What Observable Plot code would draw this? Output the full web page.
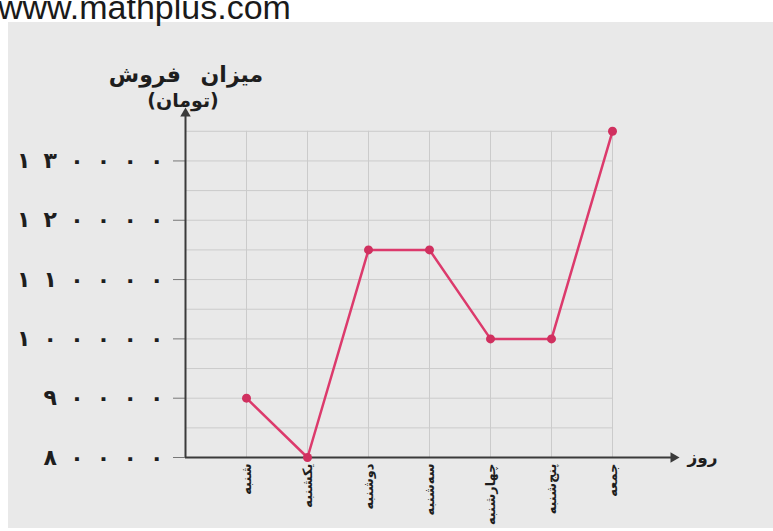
<!DOCTYPE html>
<html>
<head>
<meta charset="utf-8">
<script src="https://cdn.jsdelivr.net/npm/d3@7"></script>
<script src="https://cdn.jsdelivr.net/npm/@observablehq/plot@0.6"></script>
<style>
  html, body { margin: 0; padding: 0; background: #ffffff; }
  #wrap { position: relative; width: 773px; height: 531px; overflow: hidden; background: #ffffff; }
  #paper { position: absolute; left: 8px; top: 22px; width: 765px; height: 506px; background: #e9e9e9; }
  #wm { position: absolute; left: -2px; top: -12px; font-family: "Liberation Sans", Arial, sans-serif; font-size: 34px; color: #1a1a1a; white-space: nowrap; }
  #ttl1, #ttl2 { position: absolute; font-family: "DejaVu Sans", sans-serif; font-weight: bold; color: #1e1e1e; white-space: nowrap; transform: translateX(-50%); direction: rtl; }
  #ttl1 { left: 186px; top: 62px; font-size: 22px; word-spacing: 12px; }
  #ttl2 { left: 183px; top: 89px; font-size: 19px; }
  #chart { position: absolute; left: 0; top: 0; }
</style>
</head>
<body>
<div id="wrap">
  <div id="paper"></div>
  <div id="wm">www.mathplus.com</div>
  <div id="ttl1">میزان فروش</div>
  <div id="ttl2">(تومان)</div>
  <div id="chart"></div>
</div>
<script>
const days = ["شنبه", "یکشنبه", "دوشنبه", "سه‌شنبه", "چهارشنبه", "پنج‌شنبه", "جمعه"];
const sales = [90000, 80000, 115000, 115000, 100000, 100000, 135000];
const yTicks = [80000, 90000, 100000, 110000, 120000, 130000];
const yTickLabels = ["۸۰۰۰۰", "۹۰۰۰۰", "۱۰۰۰۰۰", "۱۱۰۰۰۰", "۱۲۰۰۰۰", "۱۳۰۰۰۰"];
const gridY = [85000, 90000, 95000, 100000, 105000, 110000, 115000, 120000, 125000, 130000, 135000];
const xAxisLabel = "روز";

const dayIndex = days.map((d, i) => i + 1);
const data = days.map((d, i) => ({ day: d, idx: i + 1, value: sales[i] }));
const pink = "#dc3a6c";
const axisColor = "#3a3a3a";
const gridColor = "#cbcbcb";
// the printed figure spreads its digits apart
const spread = s => Array.from(s).join("\u2002\u200A");

const chart = Plot.plot({
  width: 773,
  height: 531,
  marginLeft: 185,
  marginRight: 100,
  marginTop: 113,
  marginBottom: 74,
  style: { background: "transparent", fontFamily: "DejaVu Sans, sans-serif", color: "#1e1e1e" },
  x: { domain: [0, 8], axis: null },
  y: { domain: [80000, 138000], axis: null },
  marks: [
    Plot.ruleY(gridY, { y: d => d, x1: 0, x2: 7, stroke: gridColor, strokeWidth: 1 }),
    Plot.ruleX(dayIndex, { x: d => d, y1: 80000, y2: 135000, stroke: gridColor, strokeWidth: 1 }),
    Plot.axisY({
      ticks: yTicks,
      tickFormat: d => spread(yTickLabels[yTicks.indexOf(d)]),
      tickSize: 12,
      tickPadding: 10,
      fontSize: 22,
      fontWeight: "bold",
      stroke: "#777",
      label: null
    }),
    Plot.axisX({
      ticks: dayIndex,
      tickFormat: d => days[d - 1],
      tickSize: 0,
      tickPadding: 6,
      tickRotate: -90,
      fontSize: 13,
      fontWeight: "bold",
      label: null
    }),
    Plot.ruleY([80000], { x1: 0, x2: 8, stroke: axisColor, strokeWidth: 2 }),
    Plot.ruleX([0], { y1: 80000, y2: 138000, stroke: axisColor, strokeWidth: 2 }),
    Plot.dot([0], { x: 8, y: 80000, symbol: "triangle2", rotate: 90, r: 5, fill: axisColor }),
    Plot.dot([0], { x: 0, y: 138000, symbol: "triangle2", r: 5, fill: axisColor }),
    Plot.line(data, { x: "idx", y: "value", stroke: pink, strokeWidth: 2.5 }),
    Plot.dot(data, { x: "idx", y: "value", r: 4.5, fill: "#d0305f", stroke: "none" }),
    Plot.text([xAxisLabel], { x: 8, y: 80000, text: d => d, dx: 14, textAnchor: "start", fontSize: 17, fontWeight: "bold", fill: "#1e1e1e" })
  ]
});
document.getElementById("chart").appendChild(chart);
</script>
</body>
</html>
